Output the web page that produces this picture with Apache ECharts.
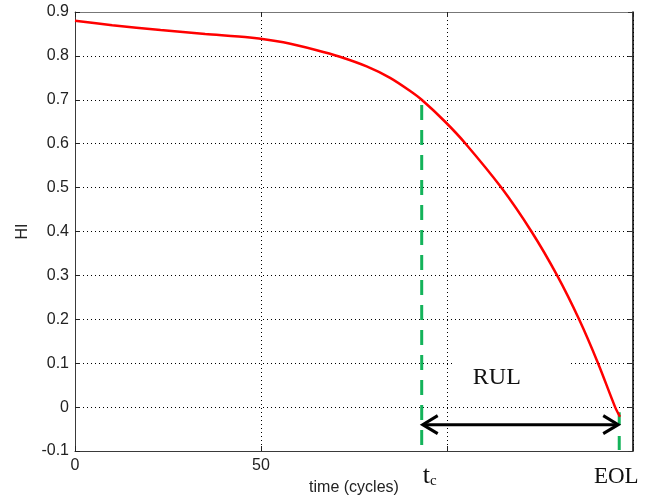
<!DOCTYPE html>
<html><head><meta charset="utf-8">
<script src="https://cdn.jsdelivr.net/npm/echarts@6/dist/echarts.min.js"></script>
<style>html,body{margin:0;padding:0;background:#fff}#c{width:662px;height:501px}</style>
</head><body><div id="c"></div>
<script>
// ---- data ----
const timeCycles = [0, 10, 23, 35, 47, 56, 65, 71.2, 78.4, 84.7, 90.1, 93.2, 99.5, 105.0, 114.6, 122.7, 129.6, 135.5, 140.6, 145.2, 146.5];
const hiValues   = [0.880, 0.870, 0.859, 0.850, 0.842, 0.831, 0.813, 0.798, 0.776, 0.750, 0.720, 0.700, 0.650, 0.600, 0.500, 0.400, 0.300, 0.200, 0.100, 0.000, -0.022];
const xTicks = [0, 50, 100, 150];
const xTickLabels = ['0', '50', '', ''];
const tcTime = 93.2;
const tcHI = 0.70;
const eolTime = 146.3;
const eolHI = -0.012;
const arrowHI = -0.04;
const rulTextTime = 117.7;
const rulTextHI = 0.068;
const labelTc = 't';
const labelTcSub = 'c';
const labelEol = 'EOL';
const labelRul = 'RUL';
const xName = 'time (cycles)';
const yName = 'HI';

const X_MIN = 0, X_MAX = 150, X_STEP = 50;
const Y_MIN = -0.1, Y_MAX = 0.9, Y_STEP = 0.1;

const sans = '"Liberation Sans", Arial, sans-serif';
const serif = '"Liberation Serif", "Times New Roman", serif';
const green = '#14b35a';

const chart = echarts.init(document.getElementById('c'), null, {renderer: 'canvas'});

const curve = timeCycles.map((t, i) => [t, hiValues[i]]);

const option = {
  animation: false,
  backgroundColor: '#fff',
  grid: {left: 75, right: 29, top: 12, bottom: 50, containLabel: false},
  xAxis: [{
    type: 'value', min: X_MIN, max: X_MAX, interval: X_STEP, position: 'bottom',
    axisLine: {onZero: false, lineStyle: {color: '#3a3a3a', width: 1}},
    axisTick: {inside: true, length: 5, lineStyle: {color: '#222'}},
    axisLabel: {
      formatter: v => { const i = xTicks.indexOf(v); return i >= 0 ? xTickLabels[i] : ''; },
      color: '#222', fontFamily: sans, fontSize: 16, margin: 7
    },
    splitLine: {show: true, lineStyle: {type: [1, 3], color: '#000', width: 1}},
    name: xName, nameLocation: 'middle', nameGap: 29,
    nameTextStyle: {fontFamily: sans, fontSize: 16, color: '#222'}
  }, {
    type: 'value', min: X_MIN, max: X_MAX, interval: X_STEP, position: 'top',
    axisLine: {onZero: false, lineStyle: {color: '#777', width: 1}},
    axisTick: {inside: true, length: 5, lineStyle: {color: '#222'}},
    axisLabel: {show: false}, splitLine: {show: false}
  }],
  yAxis: [{
    type: 'value', min: Y_MIN, max: Y_MAX, interval: Y_STEP, position: 'left',
    axisLine: {onZero: false, lineStyle: {color: '#3a3a3a', width: 1}},
    axisTick: {inside: true, length: 5, lineStyle: {color: '#222'}},
    axisLabel: {
      formatter: v => String(Number(v.toFixed(1))),
      color: '#222', fontFamily: sans, fontSize: 16, margin: 6
    },
    splitLine: {show: true, lineStyle: {type: [1, 3], color: '#000', width: 1}},
    name: yName, nameLocation: 'middle', nameGap: 44,
    nameTextStyle: {fontFamily: sans, fontSize: 16, color: '#222'}
  }, {
    type: 'value', min: Y_MIN, max: Y_MAX, interval: Y_STEP, position: 'right',
    axisLine: {onZero: false, lineStyle: {color: '#000', width: 1.5}},
    axisTick: {inside: true, length: 5, lineStyle: {color: '#333'}},
    axisLabel: {show: false}, splitLine: {show: false}
  }],
  series: [
    {
      // RUL text with white box (covers grid lines)
      type: 'custom', z: 1, clip: false,
      data: [[rulTextTime, rulTextHI]],
      renderItem: (params, api) => {
        const p = api.coord([api.value(0), api.value(1)]);
        return {
          type: 'text',
          style: {
            text: labelRul, x: p[0], y: p[1], align: 'center', verticalAlign: 'middle',
            font: '24px ' + serif, fill: '#111',
            backgroundColor: '#fff', padding: [10, 50, 8, 18]
          }
        };
      }
    },
    {
      type: 'line', z: 2, data: [[tcTime, Y_MIN], [tcTime, tcHI]],
      symbol: 'none', silent: true,
      lineStyle: {color: green, width: 3, type: [15, 10], dashOffset: 19}
    },
    {
      type: 'line', z: 2, data: [[eolTime, Y_MIN], [eolTime, eolHI]],
      symbol: 'none', silent: true,
      lineStyle: {color: green, width: 3, type: [14, 11], dashOffset: 24}
    },
    {
      type: 'line', z: 3, data: curve, symbol: 'none', smooth: 0.3, silent: true,
      lineStyle: {color: '#ff0000', width: 2.5}
    },
    {
      // RUL arrow and t_c / EOL labels
      type: 'custom', z: 4, clip: false,
      data: [[tcTime, eolTime, arrowHI]],
      renderItem: (params, api) => {
        const a = api.coord([api.value(0), api.value(2)]);
        const b = api.coord([api.value(1), api.value(2)]);
        const base = api.coord([api.value(0), Y_MIN]);
        const baseE = api.coord([api.value(1), Y_MIN]);
        const hx = 16, hy = 9;
        const st = {stroke: '#000', lineWidth: 3, fill: null, lineJoin: 'miter'};
        return {
          type: 'group',
          children: [
            {type: 'line', shape: {x1: a[0] + 2, y1: a[1], x2: b[0] - 2, y2: b[1]}, style: st},
            {type: 'polyline', shape: {points: [[a[0] + hx, a[1] - hy], [a[0] + 1, a[1]], [a[0] + hx, a[1] + hy]]}, style: st},
            {type: 'polyline', shape: {points: [[b[0] - hx, b[1] - hy], [b[0] - 1, b[1]], [b[0] - hx, b[1] + hy]]}, style: st},
            {
              type: 'text',
              style: {
                text: '{t|' + labelTc + '}{s|' + labelTcSub + '}',
                x: base[0] + 8, y: base[1] + 38, align: 'center', verticalAlign: 'bottom',
                rich: {
                  t: {font: '26px ' + serif, fill: '#111', verticalAlign: 'bottom'},
                  s: {font: '15px ' + serif, fill: '#111', verticalAlign: 'bottom'}
                }
              }
            },
            {
              type: 'text',
              style: {
                text: labelEol, x: baseE[0] - 3, y: base[1] + 26, align: 'center', verticalAlign: 'middle',
                font: '23px ' + serif, fill: '#111'
              }
            }
          ]
        };
      }
    }
  ]
};
chart.setOption(option);
</script>
</body></html>
